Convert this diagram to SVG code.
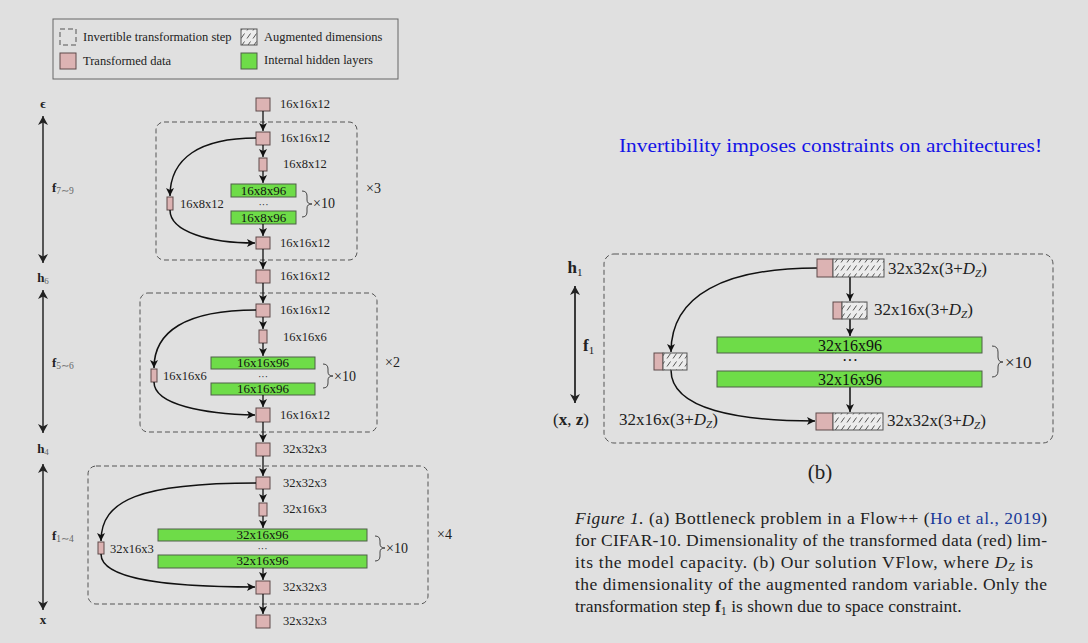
<svg xmlns="http://www.w3.org/2000/svg" width="1088" height="643" viewBox="0 0 1088 643">
<defs>
<style>
text{font-family:"Liberation Serif","Times New Roman",serif;fill:#222}
.lab{font-size:12.5px}
.glab{font-size:13px;text-anchor:middle;fill:#111}
.dots{font-size:10px;text-anchor:middle;fill:#222}
.rlab{font-size:17px}
.rglab{font-size:16px;text-anchor:middle;fill:#111}
.cap{font-size:17.5px}
.pink{fill:#dcb3b3;stroke:#5e4a4a;stroke-width:1}
.green{fill:#6edc48;stroke:#4f5f48;stroke-width:1}
.hatch{fill:url(#hp);stroke:#555;stroke-width:1}
.dash{fill:none;stroke:#555;stroke-width:1;stroke-dasharray:5 3}
.ar{fill:none;stroke:#111;stroke-width:1.3;marker-end:url(#ah)}
.curve{fill:none;stroke:#111;stroke-width:1.5;marker-end:url(#ah)}
.dbl{fill:none;stroke:#333;stroke-width:1.6;marker-start:url(#ahs);marker-end:url(#ah2)}
.brace{fill:none;stroke:#444;stroke-width:1}
.bold{font-weight:bold}
</style>
<marker id="ah" markerUnits="userSpaceOnUse" markerWidth="10" markerHeight="10" refX="8" refY="4" orient="auto">
<path d="M0,0 L8,4 L0,8 L2,4 Z" fill="#111"/>
</marker>
<marker id="ah2" markerUnits="userSpaceOnUse" markerWidth="12" markerHeight="12" refX="9" refY="5" orient="auto">
<path d="M0,0 L9,5 L0,10 L2.5,5 Z" fill="#222"/>
</marker>
<marker id="ahs" markerUnits="userSpaceOnUse" markerWidth="12" markerHeight="12" refX="9" refY="5" orient="auto-start-reverse">
<path d="M0,0 L9,5 L0,10 L2.5,5 Z" fill="#222"/>
</marker>
<pattern id="hp" patternUnits="userSpaceOnUse" width="6" height="8">
<rect width="6" height="8" fill="#ececec"/>
<line x1="1" y1="6.5" x2="4.5" y2="1.5" stroke="#444" stroke-width="0.9"/>
</pattern>
</defs>
<rect width="1088" height="643" fill="#e0e0e0"/>

<g id="legend">
<rect x="53" y="19" width="345" height="60" fill="none" stroke="#666" stroke-width="1"/>
<rect x="60" y="29" width="16" height="16" class="dash" stroke-dasharray="4 3"/>
<text x="83" y="41" class="lab">Invertible transformation step</text>
<rect x="241" y="29" width="16" height="16" class="hatch"/>
<text x="264" y="41" class="lab">Augmented dimensions</text>
<rect x="60" y="53" width="16" height="16" class="pink"/>
<text x="83" y="65" class="lab">Transformed data</text>
<rect x="241" y="53" width="16" height="16" class="green"/>
<text x="264" y="64" class="lab">Internal hidden layers</text>
</g>

<g id="steps-a">
<rect x="156" y="122" width="201" height="138" rx="8" class="dash"/>
<rect x="140" y="293" width="237" height="139" rx="8" class="dash"/>
<rect x="88" y="466" width="340" height="138" rx="8" class="dash"/>
<text x="366" y="193" style="font-size:14px">×3</text>
<text x="385" y="367" style="font-size:14px">×2</text>
<text x="437" y="539" style="font-size:14px">×4</text>
</g>

<g id="axis-a">
<text x="43" y="108" class="bold" text-anchor="middle" style="font-size:13px">ϵ</text>
<text x="43" y="282" class="bold" text-anchor="middle" style="font-size:13px">h<tspan font-weight="normal" font-size="9" fill="#666" dy="2">6</tspan></text>
<text x="43" y="453" class="bold" text-anchor="middle" style="font-size:13px">h<tspan font-weight="normal" font-size="9" fill="#666" dy="2">4</tspan></text>
<text x="43" y="624" class="bold" text-anchor="middle" style="font-size:13px">x</text>
<text x="52" y="192" class="bold" style="font-size:13px">f<tspan font-weight="normal" font-size="9.5" fill="#666" dy="2">7∼9</tspan></text>
<text x="52" y="367" class="bold" style="font-size:13px">f<tspan font-weight="normal" font-size="9.5" fill="#666" dy="2">5∼6</tspan></text>
<text x="52" y="540" class="bold" style="font-size:13px">f<tspan font-weight="normal" font-size="9.5" fill="#666" dy="2">1∼4</tspan></text>
</g>

<g id="nodes-a1">
<rect x="256" y="98" width="14" height="13" class="pink"/><text x="280" y="108" class="lab">16x16x12</text>
<rect x="256" y="132" width="14" height="13" class="pink"/><text x="280" y="142" class="lab">16x16x12</text>
<rect x="259" y="158" width="8" height="13" class="pink"/><text x="283" y="168" class="lab">16x8x12</text>
<rect x="231" y="184" width="65" height="13" class="green"/><text x="263.5" y="195" class="glab">16x8x96</text>
<text x="263.5" y="207.5" class="dots">···</text>
<rect x="231" y="211" width="65" height="13" class="green"/><text x="263.5" y="222" class="glab">16x8x96</text>
<path d="M302,191 Q307,191 307,196 L307,200 Q307,204 312,204 Q307,204 307,208 L307,212 Q307,217 302,217" class="brace"/>
<text x="313" y="208" style="font-size:14px">×10</text>
<rect x="167" y="197" width="6" height="13" class="pink"/><text x="180" y="208" class="lab">16x8x12</text>
<rect x="256" y="237" width="14" height="12" class="pink"/><text x="280" y="247" class="lab">16x16x12</text>
</g>

<g id="nodes-a2">
<rect x="256" y="270" width="14" height="13" class="pink"/><text x="280" y="280" class="lab">16x16x12</text>
<rect x="256" y="304" width="14" height="13" class="pink"/><text x="280" y="314" class="lab">16x16x12</text>
<rect x="259" y="330" width="8" height="13" class="pink"/><text x="283" y="341" class="lab">16x16x6</text>
<rect x="211" y="357" width="104" height="12" class="green"/><text x="263" y="367" class="glab">16x16x96</text>
<text x="263" y="379.5" class="dots">···</text>
<rect x="211" y="383" width="104" height="12" class="green"/><text x="263" y="393" class="glab">16x16x96</text>
<path d="M323,364 Q328,364 328,369 L328,372 Q328,376 333,376 Q328,376 328,380 L328,383 Q328,388 323,388" class="brace"/>
<text x="334" y="381" style="font-size:14px">×10</text>
<rect x="151" y="369" width="6" height="13" class="pink"/><text x="163" y="380" class="lab">16x16x6</text>
<rect x="256" y="408" width="14" height="14" class="pink"/><text x="280" y="419" class="lab">16x16x12</text>
</g>

<g id="nodes-a3">
<rect x="256" y="443" width="14" height="13" class="pink"/><text x="283" y="453" class="lab">32x32x3</text>
<rect x="256" y="477" width="14" height="12" class="pink"/><text x="283" y="487" class="lab">32x32x3</text>
<rect x="259" y="503" width="8" height="13" class="pink"/><text x="283" y="513" class="lab">32x16x3</text>
<rect x="158" y="529" width="209" height="12" class="green"/><text x="262.5" y="539" class="glab">32x16x96</text>
<text x="262.5" y="551.5" class="dots">···</text>
<rect x="158" y="555" width="209" height="13" class="green"/><text x="262.5" y="565" class="glab">32x16x96</text>
<path d="M375,536 Q380,536 380,541 L380,544 Q380,548 385,548 Q380,548 380,552 L380,556 Q380,561 375,561" class="brace"/>
<text x="386" y="553" style="font-size:14px">×10</text>
<rect x="98" y="542" width="6" height="12" class="pink"/><text x="110" y="553" class="lab">32x16x3</text>
<rect x="256" y="581" width="14" height="13" class="pink"/><text x="283" y="591" class="lab">32x32x3</text>
<rect x="256" y="615" width="14" height="13" class="pink"/><text x="283" y="625" class="lab">32x32x3</text>
</g>

<g id="connectors">
<line x1="43" y1="116" x2="43" y2="263" class="dbl"/>
<line x1="43" y1="290" x2="43" y2="433" class="dbl"/>
<line x1="43" y1="464" x2="43" y2="610" class="dbl"/>
<line x1="263" y1="111" x2="263" y2="131" class="ar"/>
<line x1="263" y1="145" x2="263" y2="157" class="ar"/>
<line x1="263" y1="171" x2="263" y2="183" class="ar"/>
<line x1="263" y1="224" x2="263" y2="236" class="ar"/>
<line x1="263" y1="249" x2="263" y2="269" class="ar"/>
<line x1="263" y1="283" x2="263" y2="303" class="ar"/>
<line x1="263" y1="317" x2="263" y2="329" class="ar"/>
<line x1="263" y1="343" x2="263" y2="356" class="ar"/>
<line x1="263" y1="395" x2="263" y2="407" class="ar"/>
<line x1="263" y1="422" x2="263" y2="442" class="ar"/>
<line x1="263" y1="456" x2="263" y2="476" class="ar"/>
<line x1="263" y1="489" x2="263" y2="502" class="ar"/>
<line x1="263" y1="516" x2="263" y2="528" class="ar"/>
<line x1="263" y1="568" x2="263" y2="580" class="ar"/>
<line x1="263" y1="594" x2="263" y2="614" class="ar"/>
<path d="M256,138 C200,138 170,158 170,196" class="curve"/>
<path d="M170,210 C170,232 210,243 255,243" class="curve"/>
<path d="M256,310 C185,310 154,332 154,368" class="curve"/>
<path d="M154,382 C154,405 205,414 255,415" class="curve"/>
<path d="M256,483 C140,483 101,500 101,541" class="curve"/>
<path d="M101,554 C101,580 170,587 255,587" class="curve"/>
<path d="M817,268 C725,268 671,295 671,352" class="curve"/>
<path d="M671,370 C671,410 740,421 815,421" class="curve"/>
<line x1="850" y1="277" x2="850" y2="301" class="ar" style="stroke-width:1.5"/>
<line x1="850" y1="319" x2="850" y2="336" class="ar" style="stroke-width:1.5"/>
<line x1="850" y1="387" x2="850" y2="412" class="ar" style="stroke-width:1.5"/>
<line x1="575" y1="286" x2="575" y2="403" class="dbl" style="stroke:#111"/>
</g>

<g id="title">
<text x="619" y="152" style="font-size:18px;fill:#1414e6" textLength="423" lengthAdjust="spacingAndGlyphs">Invertibility imposes constraints on architectures!</text>
</g>

<g id="step-b">
<rect x="604" y="254" width="449" height="189" rx="10" class="dash"/>
<text x="575" y="273" class="bold" text-anchor="middle" style="font-size:17px">h<tspan font-weight="normal" font-size="11" dy="3">1</tspan></text>
<text x="583" y="351" class="bold" style="font-size:17px">f<tspan font-weight="normal" font-size="11" dy="3">1</tspan></text>
<text x="553" y="425" style="font-size:17px">(<tspan font-weight="bold">x</tspan>, <tspan font-weight="bold">z</tspan>)</text>
</g>

<g id="nodes-b">
<rect x="817" y="259" width="16" height="18" class="pink"/><rect x="833" y="259" width="51" height="18" class="hatch"/>
<text x="888" y="274" class="rlab">32x32x(3+<tspan font-style="italic">D</tspan><tspan font-style="italic" font-size="11" dy="3">Z</tspan><tspan dy="-3">)</tspan></text>
<rect x="833" y="302" width="9" height="17" class="pink"/><rect x="842" y="302" width="25" height="17" class="hatch"/>
<text x="874" y="315" class="rlab">32x16x(3+<tspan font-style="italic">D</tspan><tspan font-style="italic" font-size="11" dy="3">Z</tspan><tspan dy="-3">)</tspan></text>
<rect x="717" y="337" width="265" height="16" class="green"/><text x="850" y="351" class="rglab">32x16x96</text>
<text x="850" y="366" class="rglab">···</text>
<rect x="717" y="371" width="265" height="16" class="green"/><text x="850" y="385" class="rglab">32x16x96</text>
<path d="M992,346 Q998,346 998,352 L998,357 Q998,362 1003,362 Q998,362 998,367 L998,371 Q998,377 992,377" class="brace"/>
<text x="1005" y="368" class="rlab">×10</text>
<rect x="654" y="353" width="9" height="17" class="pink"/><rect x="663" y="353" width="24" height="17" class="hatch"/>
<text x="619" y="425" class="rlab">32x16x(3+<tspan font-style="italic">D</tspan><tspan font-style="italic" font-size="11" dy="3">Z</tspan><tspan dy="-3">)</tspan></text>
<rect x="816" y="413" width="17" height="17" class="pink"/><rect x="833" y="413" width="50" height="17" class="hatch"/>
<text x="887" y="426" class="rlab">32x32x(3+<tspan font-style="italic">D</tspan><tspan font-style="italic" font-size="11" dy="3">Z</tspan><tspan dy="-3">)</tspan></text>
</g>

<g id="caption">
<text x="820" y="479" text-anchor="middle" style="font-size:21px">(b)</text>
<text x="575" y="524" class="cap" textLength="472" lengthAdjust="spacing"><tspan font-style="italic">Figure 1.</tspan> (a) Bottleneck problem in a Flow++ (<tspan fill="#1a3a9a">Ho et al., 2019</tspan>)</text>
<text x="575" y="546" class="cap" textLength="472" lengthAdjust="spacing">for CIFAR-10. Dimensionality of the transformed data (red) lim-</text>
<text x="575" y="568" class="cap" textLength="458" lengthAdjust="spacing">its the model capacity.  (b) Our solution VFlow, where <tspan font-style="italic">D</tspan><tspan font-style="italic" font-size="12" dy="3">Z</tspan><tspan dy="-3"> is</tspan></text>
<text x="575" y="590" class="cap" textLength="472" lengthAdjust="spacing">the dimensionality of the augmented random variable. Only the</text>
<text x="575" y="612" class="cap">transformation step <tspan font-weight="bold">f</tspan><tspan font-size="12" dy="3">1</tspan><tspan dy="-3"> is shown due to space constraint.</tspan></text>
</g>
</svg>
